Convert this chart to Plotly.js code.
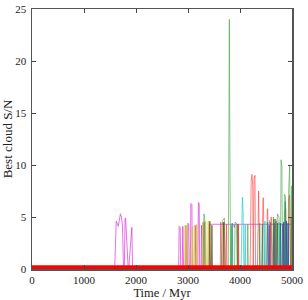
<!DOCTYPE html>
<html>
<head>
<meta charset="utf-8">
<script src="https://cdn.plot.ly/plotly-3.0.1.min.js"></script>
<style>html,body{margin:0;padding:0;background:#fff;}#chart{width:308px;height:300px;}</style>
</head>
<body>
<div id="chart"></div>
<script>
// Series (Time in Myr, best cloud S/N)
const baselineX = [0, 5000];
const baselineY = [0.15, 0.15];

const magentaX = [1590,1600,1610,1620,1660,1680,1700,1720,1740,1760,1775,1790,1800,1850,1860,1920,1935,1950,
  2820,2830,2850,2860,2890,2900,2915,2950,2960,2975,2990,3000,3015,3025,3045,3055,3075,3085,3140,3150,3160,3190,3200,3215,3225,3250,3260,3270,3300,3310,3320,
  3400,3410,3880,3890,3900,5000];
const magentaY = [0,2.5,4.6,4.6,4.1,5.0,5.3,5.0,4.2,0,0,4.9,4.9,0,0,4.0,0,0,
  0,4.1,4.0,0,0,4.1,0,0,4.2,0,0,4.4,4.3,0,0,6.3,6.2,0,0,4.2,0,0,6.4,6.3,0,0,4.2,0,0,4.5,0,
  0,4.3,4.3,4.0,4.3,4.3];

const yellowX = [2935,2945,2955,2975,2990,3005,3065,3080,3095,3110,3120,3130,3155,3170,3185,3265,3280,3295,3325,3340,3355,3375,3390,3405];
const yellowY = [0,4.2,0,0,4.4,0,0,4.0,0,0,4.2,0,0,4.3,0,0,4.5,0,0,4.6,0,0,4.6,0];

const greenX = [3290,3305,3320,3335,3640,3660,3700,3720,3775,3785,3795,3805,3820,3830,3840,3895,3905,3930,3945,4140,4150,4160,4370,4380,4390,
  4620,4640,4670,4685,4700,4720,4750,4765,4775,4790,4805,4820,4840,4855,4875,4890,4920,4935,4955,4970,4985,4995,5000];
const greenY = [0,5.3,5.0,0,0,4.6,4.9,0,0,10,24.0,12,0,4.2,0,0,4.5,4.4,0,0,4.3,0,0,4.4,0,
  0,5.0,4.6,0,0,5.3,5.0,0,0,10.5,9.8,0,0,7.2,7.0,0,0,7.5,9.9,0,0,8.0,0];

const oliveX = [3410,3420,3435,3450,3460,3470,3670,3680,3690,3950,3960,3970,4570,4580,4590,4640,4650,4660,4710,4720,4730];
const oliveY = [0,4.6,0,0,4.2,0,0,4.5,0,0,4.3,0,0,4.5,0,0,4.8,0,0,4.4,0];

const redX = [3620,3630,3645,3690,3700,3710,3730,3740,3750,3960,3970,3980,4195,4215,4231,4245,4255,4270,4288,4300,4335,4350,4358,4380,4425,4440,4449,4470,
  4510,4525,4532,4550,4590,4600,4615,4670,4685,4695,4705,4850,4865,4880,4895,4925,4940,4955,4970,4975,4985,4995];
const redY = [0,4.5,0,0,4.5,0,0,4.3,0,0,4.3,0,0,8.5,9.1,8.0,0,8.6,9.0,0,0,7.2,7.5,0,0,6.6,6.85,0,
  0,5.6,5.8,0,0,5.0,0,0,4.8,4.6,0,0,5.6,5.8,0,0,6.8,7.1,0,0,5.0,0];

const cyanX = [4020,4035,4045,4060,4075,4090,4100,4110,4470,4480,4490,4560,4570,4580,4740,4750,4760];
const cyanY = [0,6.2,6.9,5.5,0,0,4.3,0,0,4.6,0,0,4.7,0,0,4.5,0];

const tealX = [3840,3850,3860,4420,4430,4440,4520,4530,4540,4680,4690,4700,4860,4870,4880];
const tealY = [0,4.4,0,0,4.3,0,0,4.5,0,0,4.6,0,0,6.5,0];

const blueX = [4770,4780,4790,4830,4840,4850,4880,4890,4900,4915,4925,4935];
const blueY = [0,4.4,0,0,4.5,0,0,4.6,0,0,4.4,0];

const purpleX = [4550,4560,4570,4650,4660,4670,4810,4820,4830];
const purpleY = [0,4.2,0,0,4.4,0,0,4.3,0];

function series(x, y, color, opacity, width) {
  return {x: x, y: y, type: 'scatter', mode: 'lines', hoverinfo: 'skip',
    line: {color: color, width: width || 1}, opacity: opacity, showlegend: false};
}

const traces = [
  series(magentaX, magentaY, '#dd33dd', 0.7),
  series(yellowX, yellowY, '#cccc22', 0.7),
  series(oliveX, oliveY, '#554411', 0.7),
  series(redX, redY, '#ff3333', 0.6),
  series(cyanX, cyanY, '#22cccc', 0.7),
  series(tealX, tealY, '#009977', 0.7),
  series(purpleX, purpleY, '#7733aa', 0.7),
  series(blueX, blueY, '#2233cc', 0.8),
  series(greenX, greenY, '#339933', 0.55),
  series(baselineX, baselineY, '#ff0000', 1, 4.5)
];

const fam = '"Liberation Serif", "DejaVu Serif", serif';

const layout = {
  width: 308, height: 300,
  margin: {l: 32, r: 16, t: 9, b: 31, pad: 0},
  paper_bgcolor: '#fff', plot_bgcolor: '#fff',
  font: {family: fam, size: 12, color: '#222'},
  showlegend: false,
  xaxis: {
    range: [0, 5000], tickvals: [0,1000,2000,3000,4000,5000],
    ticks: 'inside', ticklen: 4, tickcolor: '#444', tickwidth: 1,
    showline: true, linecolor: '#555', linewidth: 1.5, mirror: 'ticks',
    showgrid: false, zeroline: false,
    tickfont: {family: fam, size: 11, color: '#222'},
    title: {text: 'Time / Myr', font: {family: fam, size: 12.5, color: '#222'}, standoff: 2}
  },
  yaxis: {
    range: [0, 25], tickvals: [0,5,10,15,20,25],
    ticks: 'inside', ticklen: 4, tickcolor: '#444', tickwidth: 1,
    showline: true, linecolor: '#555', linewidth: 1.5, mirror: 'ticks',
    showgrid: false, zeroline: false,
    ticklabelstandoff: 2,
    tickfont: {family: fam, size: 11, color: '#222'},
    title: {text: 'Best cloud S/N', font: {family: fam, size: 13, color: '#222'}, standoff: 2}
  }
};

Plotly.newPlot('chart', traces, layout, {staticPlot: true, displayModeBar: false});
</script>
</body>
</html>
